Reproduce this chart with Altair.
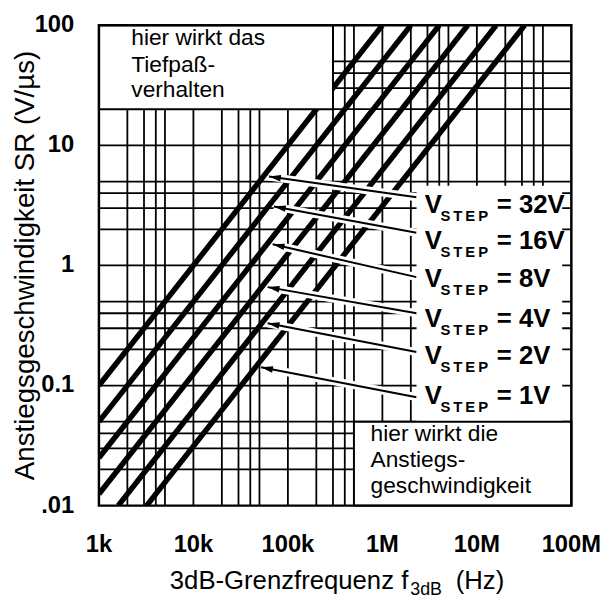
import math
import altair as alt
import pandas as pd

# ---------------- data ----------------
x_tick_values = [1e3, 1e4, 1e5, 1e6, 1e7, 1e8]
x_tick_labels = ["1k", "10k", "100k", "1M", "10M", "100M"]
y_tick_values = [0.01, 0.1, 1, 10, 100]
y_tick_labels = [".01", "0.1", "1", "10", "100"]

grid_freq = [2e3, 3e3, 4e3, 5e3, 1e4, 2e4, 3e4, 4e4, 5e4, 1e5, 2e5, 3e5, 4e5, 5e5,
             1e6, 2e6, 3e6, 4e6, 5e6, 1e7, 2e7, 3e7, 4e7, 5e7]
grid_sr = [0.02, 0.03, 0.04, 0.05, 0.1, 0.2, 0.3, 0.4, 0.5, 1, 2, 3, 4, 5,
           10, 20, 30, 40, 50]

step_names = ["32V", "16V", "8V", "4V", "2V", "1V"]
line_f_start = [1e3, 1e3, 1e3, 1e3, 1.6e3, 3.2e3]
line_sr_start = [0.1, 0.05, 0.025, 0.0125, 0.01, 0.01]
line_f_end = [1e6, 2e6, 4e6, 8e6, 16e6, 32e6]
line_sr_end = [100, 100, 100, 100, 100, 100]

arrow_tail_f = [2.3e6, 2.3e6, 2.3e6, 2.3e6, 2.3e6, 2.3e6]
arrow_tail_sr = [3.7, 1.87, 0.8, 0.40, 0.19, 0.080]
arrow_tip_f = [63e3, 71e3, 69e3, 61e3, 61e3, 52e3]
arrow_tip_sr = [5.5, 3.1, 1.5, 0.66, 0.33, 0.142]

label_f = [2.8e6] * 6
label_sr = [2.73, 1.38, 0.66, 0.309, 0.150, 0.0705]
label_value = ["= 32V", "= 16V", "= 8V", "= 4V", "= 2V", "= 1V"]

box_f1 = [1e3, 2.3e6, 5e5]
box_f2 = [3e5, 8e7, 1e8]
box_sr1 = [20, 0.05, 0.01]
box_sr2 = [100, 4.6, 0.05]
box_outlined = [True, False, True]

note_top_lines = ["hier wirkt das", "Tiefpaß-", "verhalten"]
note_top_f = [2.2e3, 2.2e3, 2.2e3]
note_top_sr = [68.4, 41.0, 25.1]
note_bot_lines = ["hier wirkt die", "Anstiegs-", "geschwindigkeit"]
note_bot_f = [7.5e5, 7.5e5, 7.5e5]
note_bot_sr = [0.0343, 0.0209, 0.0128]

y_title = "Anstiegsgeschwindigkeit SR (V/µs)"

# ---------------- layout ----------------
W, H = 478, 486
NARROW = "Liberation Sans Narrow, Arial Narrow, Liberation Sans, sans-serif"
REG = "Liberation Sans, Arial, sans-serif"

xs = alt.Scale(type="log", domain=[1e3, 1e8], nice=False)
ys = alt.Scale(type="log", domain=[0.01, 100], nice=False)


def px(f):
    return W * (math.log10(f) - 3) / 5


def py(s):
    return H * (2 - math.log10(s)) / 4


angles = []
for tf, ts, hf, hs in zip(arrow_tail_f, arrow_tail_sr, arrow_tip_f, arrow_tip_sr):
    dx = px(hf) - px(tf)
    dy = py(hs) - py(ts)
    a = math.degrees(math.atan2(-dy, -dx))
    if a < 0:
        a += 360
    angles.append(a)

grid_v = pd.DataFrame({"f": grid_freq})
grid_h = pd.DataFrame({"sr": grid_sr})
lines = pd.DataFrame({"name": step_names, "f1": line_f_start, "s1": line_sr_start,
                      "f2": line_f_end, "s2": line_sr_end})
arrows = pd.DataFrame({"name": step_names, "tf": arrow_tail_f, "ts": arrow_tail_sr,
                       "hf": arrow_tip_f, "hs": arrow_tip_sr, "angle": angles})
labels = pd.DataFrame({"f": label_f, "sr": label_sr, "val": label_value,
                       "v": ["V"] * 6, "step": ["S\u2009T\u2009E\u2009P"] * 6})
boxes = pd.DataFrame({"f1": box_f1, "f2": box_f2, "s1": box_sr1, "s2": box_sr2,
                      "outlined": box_outlined})
notes = pd.DataFrame({"t": note_top_lines + note_bot_lines,
                      "f": note_top_f + note_bot_f,
                      "sr": note_top_sr + note_bot_sr})
frame = pd.DataFrame({"f1": [1e3], "f2": [1e8], "s1": [0.01], "s2": [100]})
xticks = pd.DataFrame({"f": x_tick_values, "t": x_tick_labels, "sr": [0.01] * 6})
yticks = pd.DataFrame({"sr": y_tick_values, "t": y_tick_labels, "f": [1e3] * 5})

X = lambda fld: alt.X(fld, scale=xs, axis=None)
Y = lambda fld: alt.Y(fld, scale=ys, axis=None)

vgrid = alt.Chart(grid_v).mark_rule(color="black", strokeWidth=1.8).encode(x=X("f:Q"))
hgrid = alt.Chart(grid_h).mark_rule(color="black", strokeWidth=1.8).encode(y=Y("sr:Q"))

sr_lines = alt.Chart(lines).mark_rule(color="black", strokeWidth=5.5, strokeCap="butt",
                                      clip=True).encode(
    x=X("f1:Q"), x2="f2:Q", y=Y("s1:Q"), y2="s2:Q")

halo = alt.Chart(arrows).mark_rule(color="white", strokeWidth=8, strokeCap="butt").encode(
    x=X("tf:Q"), x2="hf:Q", y=Y("ts:Q"), y2="hs:Q")
arrow_shaft = alt.Chart(arrows).mark_rule(color="black", strokeWidth=2).encode(
    x=X("tf:Q"), x2="hf:Q", y=Y("ts:Q"), y2="hs:Q")
arrow_head = alt.Chart(arrows).mark_point(
    shape="M0,0L2,-0.55L2,0.55Z", filled=True, color="black", size=144, opacity=1,
    strokeWidth=0).encode(
    x=X("hf:Q"), y=Y("hs:Q"), angle=alt.Angle("angle:Q", scale=None))

box_fill = alt.Chart(boxes).mark_rect(color="white").encode(
    x=X("f1:Q"), x2="f2:Q", y=Y("s1:Q"), y2="s2:Q")
box_line = alt.Chart(boxes).transform_filter("datum.outlined").mark_rect(
    filled=False, stroke="black", strokeWidth=2).encode(
    x=X("f1:Q"), x2="f2:Q", y=Y("s1:Q"), y2="s2:Q")

lab_v = alt.Chart(labels).mark_text(align="left", baseline="alphabetic", font=NARROW,
                                    fontSize=26, fontWeight="bold", color="black").encode(
    x=X("f:Q"), y=Y("sr:Q"), text="v:N")
lab_step = alt.Chart(labels).mark_text(align="left", baseline="alphabetic", font=NARROW,
                                       fontSize=15, fontWeight="bold", color="black",
                                       dx=16, dy=8).encode(
    x=X("f:Q"), y=Y("sr:Q"), text="step:N")
lab_val = alt.Chart(labels).mark_text(align="left", baseline="alphabetic", font=NARROW,
                                      fontSize=26, fontWeight="bold", color="black",
                                      dx=73).encode(
    x=X("f:Q"), y=Y("sr:Q"), text="val:N")

note_text = alt.Chart(notes).mark_text(align="left", baseline="alphabetic", font=REG,
                                       fontSize=23, color="black").encode(
    x=X("f:Q"), y=Y("sr:Q"), text="t:N")

frame_rect = alt.Chart(frame).mark_rect(filled=False, stroke="black", strokeWidth=2.5).encode(
    x=X("f1:Q"), x2="f2:Q", y=Y("s1:Q"), y2="s2:Q")

xtick_text = alt.Chart(xticks).mark_text(align="center", baseline="top", font=NARROW,
                                         fontSize=24, fontWeight="bold", color="black",
                                         dy=28).encode(
    x=X("f:Q"), y=Y("sr:Q"), text="t:N")
ytick_text = alt.Chart(yticks).mark_text(align="right", baseline="middle", font=NARROW,
                                         fontSize=24, fontWeight="bold", color="black",
                                         dx=-25).encode(
    x=X("f:Q"), y=Y("sr:Q"), text="t:N")

ytitle = alt.Chart(pd.DataFrame({"t": [y_title]})).mark_text(
    align="center", baseline="middle", font=REG, fontSize=28, color="black",
    angle=270).encode(x=alt.value(-74), y=alt.value(243), text="t:N")
xt_main = alt.Chart(pd.DataFrame({"t": ["3dB-Grenzfrequenz f"]})).mark_text(
    align="right", baseline="alphabetic", font=REG, fontSize=26, color="black").encode(
    x=alt.value(313), y=alt.value(570), text="t:N")
xt_sub = alt.Chart(pd.DataFrame({"t": ["3dB"]})).mark_text(
    align="left", baseline="alphabetic", font=REG, fontSize=18, color="black").encode(
    x=alt.value(315), y=alt.value(576), text="t:N")
xt_unit = alt.Chart(pd.DataFrame({"t": ["(Hz)"]})).mark_text(
    align="left", baseline="alphabetic", font=REG, fontSize=26, color="black").encode(
    x=alt.value(361), y=alt.value(570), text="t:N")

chart = alt.layer(
    vgrid, hgrid, sr_lines, halo, arrow_shaft, arrow_head, box_fill, box_line,
    lab_v, lab_step, lab_val, note_text, frame_rect, xtick_text, ytick_text,
    ytitle, xt_main, xt_sub, xt_unit
).properties(
    width=W, height=H,
    autosize=alt.AutoSizeParams(type="none"),
    padding={"left": 92, "top": 14, "right": 30, "bottom": 92},
    background="white",
).configure_view(strokeWidth=0)

chart.save("out.html", embed_options={"renderer": "svg", "actions": False})
